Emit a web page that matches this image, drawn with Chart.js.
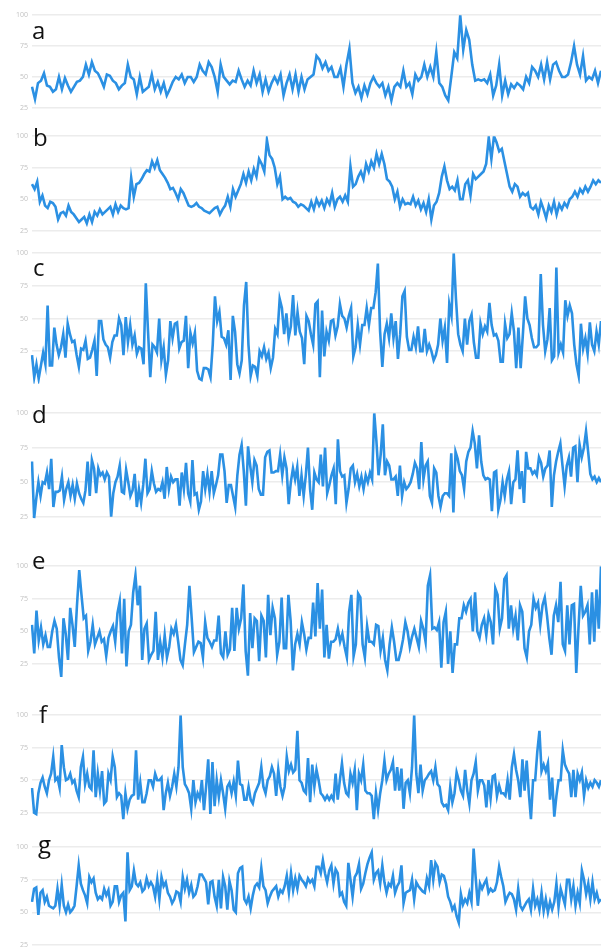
<!DOCTYPE html>
<html lang="en">
<head>
<meta charset="UTF-8">
<title>Seven series a-g</title>
<script src="https://cdn.jsdelivr.net/npm/chart.js@4.4.1/dist/chart.umd.min.js"></script>
<style>
  html, body { margin: 0; padding: 0; background: #fff; overflow: hidden; }
  #page { position: relative; width: 601px; height: 947px; }
  #page canvas { position: absolute; left: 0; }
  .tag { position: absolute; font-family: 'Open Sans', sans-serif; font-size: 24px; line-height: 24px; color: #111; }
</style>
</head>
<body>
<div id="page"></div>
<script>
const tickValues = [25, 50, 75, 100];
const panelLetters = ['a', 'b', 'c', 'd', 'e', 'f', 'g'];

const seriesA = [42,32,45,47,53,43,42,38,40,50, 40,49,43,38,42,46,47,50,60,52, 62,55,53,48,42,52,51,47,45,40,
  43,45,60,50,48,36,50,38,40,42, 52,40,46,38,45,35,40,46,50,48, 52,45,50,50,46,50,60,55,52,62,
  58,50,38,60,50,47,44,47,46,55, 48,42,47,43,55,45,52,38,48,38, 45,50,45,52,35,45,52,40,52,38,
  50,40,48,50,52,67,64,57,62,55, 58,50,50,57,42,60,73,45,37,42, 33,43,36,45,50,45,42,45,35,42,
  31,42,45,42,55,42,45,36,52,47, 50,60,50,58,50,70,45,42,35,31, 50,70,65,100,72,88,80,60,47,48,
  47,48,45,52,35,43,60,35,47,36, 44,41,45,43,40,50,45,58,55,50, 60,48,62,48,60,62,55,50,50,52,
  62,75,60,52,67,47,50,48,55,45, 55];

const seriesB = [62,58,64,48,53,45,43,48,47, 44,34,39,40,37,45,40,38,35,32, 34,36,31,38,32,40,37,
  42,38,40,42,44,38,46,40,45,43, 42,43,67,52,62,63,66,70,73,72, 80,75,81,73,70,67,63,58,59,55,
  50,58,55,50,45,44,45,47,44,43, 41,40,39,41,43,44,38, 42,45,52,44,58,52,57,62,70,63,
  72,65,74,68,82,78,72,97,85,82, 75,62,68,50,52,50,51,48,47,44, 46,45,43,41,48,42,50,45,49,43,
  50,46,55,44,50,52,48,53,48,76, 60,62,68,72,66,78,72,80,75,86, 78,86,78,66,64,60,50,56,44,50,
  46,47,46,52,45,49,42,47,40,50, 34,45,48,55,68,76,65,58,60,57, 65,50,50,62,65,53,70,66,68,70,
  72,78,99,82,100,95,88,90,80,70, 60,56,62,60,52,55,53,55,44,42, 45,38,48,42,35,45,40,48,38,46,42,
  47,44,50,52,56,52,58,55,60,56,60,65, 62,65,63];

const seriesC = [22,5,15,4,14,24,15,60,14,14, 43,30,22,28,38,20,46,38,32,33, 22,13,27,26,33,19,20,26,33,6,
  48,48,34,30,28,20,32,37,37,50, 45,22,51,32,45,30,37,23,28,27, 15,77,40,5,30,28,24,50,18,28,
  7,18,48,35,46,47,27,32,33,52, 12,39,31,39,10,4,3,12,12,11, 5,30,67,48,55,36,35,30,41,3,
  52,40,15,8,18,60,78,30,6,14, 13,6,25,21,28,19,24,12,20,42, 38,65,58,38,54,35,44,68,37,55,
  40,35,15,52,48,38,30,61,63,5, 56,21,40,33,48,49,37,44,61,52, 50,43,52,58,21,28,45,30,45,45,
  58,45,58,58,70,92,40,13,38,46, 35,54,35,48,19,38,67,71,36,26, 26,36,28,44,25,25,42,25,30,25,
  18,22,30,50,33,43,16,61,52,100, 65,38,30,25,50,30,48,53,32,20, 20,46,38,44,40,62,45,37,38,33,
  17,17,46,35,38,54,40,12,43,12, 38,67,50,45,35,28,28,30,84,45, 25,34,58,18,21,89,24,30,24,64,
  52,60,54,30,15,6,46,27,35,23, 47,30,25,40,30,48];

const seriesD = [65,24,38,50,40,50,49,57,45,67, 32,43,43,44,54,37,45,50,40,48, 38,49,42,38,35,44,65,40,66,60,
  42,60,55,57,52,57,54,25,42,50, 54,62,43,42,59,50,40,44,56,32, 45,35,48,67,42,45,58,49,43,45,
  44,50,38,61,45,54,50,52,52,33, 57,45,64,42,36,66,41,42,30,36, 58,45,56,43,58,42,48,55,70,70,
  58,35,48,48,40,32,55,70,77,58, 33,76,62,50,66,62,45,41,41,68, 72,73,57,57,58,58,70,55,68,60,
  34,50,60,52,61,40,55,40,55,75, 45,30,57,52,50,70,47,75,42,48, 55,60,34,81,58,54,55,35,45,60,
  62,50,56,47,54,45,55,50,57,52, 100,80,55,70,92,55,65,62,52,52, 54,40,62,40,50,45,47,50,56,64,
  60,45,79,52,62,65,40,35,60,57, 40,32,40,42,42,40,71,28,72,67, 58,55,45,65,72,75,87,78,60,84,
  65,55,52,53,52,29,57,58,30,37, 50,40,52,58,34,50,52,73,45,58, 35,72,60,60,56,58,55,68,64,54,
  60,62,73,32,55,65,72,78,62,47, 62,68,54,75,76,50,77,68,75,87, 72,56,52,54,50,53,50];

const seriesE = [55,33,66,43,53,40,47,38, 38,50,58,52,30,15,60,48, 28,68,55,38,70,97,78,60,62,35,
  42,55,40,45,50,42,44,31,45,50, 54,42,64,73,33,75,23,50,55,80, 93,70,85,28,52,56,28,32,35,65,
  28,42,30,47,30,38,52,48,55,42, 28,24,40,55,85,60,34,38,42,41, 30,57,45,42,38,43,43,62,33,30,
  50,32,36,68,35,68,52,60,86,35, 16,64,37,60,58,27,62,58,30,78, 47,68,60,32,42,76,37,37,78,58,
  20,40,48,40,57,48,36,45,45,72, 46,87,52,82,30,55,29,42,42,44, 52,42,48,38,30,65,78,31,40,79,
  76,40,30,54,42,42,40,55,54,35, 45,28,20,40,53,42,28,28,35,44, 57,50,38,46,52,45,38,58,52,42,
  85,93,52,53,51,57,22,57,65,25, 50,18,40,40,60,60,70,65,72,75, 50,80,50,45,55,60,47,63,57,40,
  83,78,52,60,90,93,52,70,52,62, 43,70,65,37,30,50,55,75,68,72, 55,70,76,62,45,32,62,70,57,88,
  40,35,70,40,70,71,18,53,85,62, 65,70,40,80,42,82,52,100];

const seriesF = [44,25,24,40,48,52,45,40,50,55, 68,50,52,44,77,60,50,51,55,48, 50,42,37,60,68,47,55,45,43,73,
  37,55,42,57,32,34,55,50,68,60, 37,40,38,20,40,28,35,38,39,73, 35,48,33,33,40,50,50,45,55,50,
  50,52,27,40,48,38,45,55,45,60, 100,60,47,44,40,28,50,33,40,36, 50,27,45,66,24,64,30,50,37,50,
  40,28,45,48,40,49,38,65,47,46, 35,35,45,35,32,40,44,48,60,45, 40,50,53,60,55,38,58,45,38,45,
  68,57,62,56,58,88,50,48,42,40, 67,33,62,45,58,50,40,38,35,38, 35,38,35,55,35,50,63,48,40,38,
  55,48,58,27,55,50,62,42,40,40, 38,20,40,27,40,50,65,50,55,58, 64,42,60,42,59,28,48,50,40,60,
  100,55,40,62,42,50,52,55,57,50, 60,47,45,33,30,31,27,45,33,40, 56,50,42,38,58,42,32,50,55,64,
  42,50,50,46,29,50,36,53,54,38, 46,40,40,38,50,35,60,70,58,50, 37,66,42,65,40,20,50,50,72,88,
  57,62,57,63,35,52,22,38,50,50, 73,62,58,55,37,58,37,55,50,56, 38,50,44,48,45,50,48,45,50];

const seriesG = [58,68,69,48,65,67,58,62,55,54, 53,55,68,55,71,55,50,56,50,52, 55,70,86,72,67,63,57,77,73,76,
  65,60,62,60,68,63,67,55,58,70, 70,58,63,65,43,96,67,70,82,72, 70,73,66,68,76,70,73,70,62,75,
  60,77,70,73,65,62,57,60,66,65, 58,77,68,75,65,71,62,64,70,79, 79,76,73,56,73,74,62,55,75,53,
  77,70,52,74,67,52,50,80,84,85, 60,57,62,53,63,70,72,69,84,70, 67,57,62,66,68,70,62,67,65,70,
  78,65,80,67,76,68,78,75,73,70, 76,73,75,70,85,85,80,90,80,73, 82,86,72,83,80,63,65,58,55,88,
  75,62,77,80,87,68,72,80,87,92, 96,75,80,82,72,86,73,65,72,70, 78,65,70,73,86,57,65,66,67,75,
  60,73,70,68,66,65,76,70,90,75, 88,85,73,79,78,72,62,58,52,55, 47,42,64,56,60,57,65,58,99,76,
  55,72,68,72,75,65,68,66,67,73, 85,77,70,58,62,65,64,60,52,68, 55,52,55,58,60,52,68,55,60,52,
  65,51,60,50,58,52,58,72,54,68, 62,56,75,75,60,70,55,65,57,82, 75,64,72,60,73,60,65,58,60];

const allSeries = [seriesA, seriesB, seriesC, seriesD, seriesE, seriesF, seriesG];
const axisMins = [25, 25, 0, 22, 12, 18, 25];

// page layout: y of the 100 line, y of the axis minimum, letter left / baseline
const panelTop = [15, 136, 253, 413, 566, 715, 847];
const panelBottom = [108, 231, 384, 521, 681, 822, 945];
const tagLeft = [32, 33, 33, 32, 32, 39, 38];
const tagBaseline = [39, 146, 276, 423, 569, 723, 853];

const lineColor = '#2b90e3';
const pad = 8;
const page = document.getElementById('page');

allSeries.forEach((values, i) => {
  const canvas = document.createElement('canvas');
  canvas.width = 601;
  canvas.height = panelBottom[i] - panelTop[i] + pad * 2;
  canvas.style.top = (panelTop[i] - pad) + 'px';
  page.appendChild(canvas);

  new Chart(canvas, {
    type: 'line',
    data: {
      labels: values.map((_, k) => k + 1),
      datasets: [{
        data: values,
        borderColor: lineColor,
        borderWidth: 2.6,
        pointRadius: 0,
        tension: 0,
        fill: false
      }]
    },
    options: {
      responsive: false,
      animation: false,
      events: [],
      layout: { padding: { top: pad, bottom: pad, left: 0, right: 0 } },
      plugins: { legend: { display: false }, tooltip: { enabled: false } },
      scales: {
        x: { display: false },
        y: {
          min: axisMins[i],
          max: 100,
          afterBuildTicks: s => { s.ticks = tickValues.map(v => ({ value: v })); },
          afterFit: s => { s.width = 32; },
          border: { display: false },
          grid: { color: '#ececec', lineWidth: 1.5, drawTicks: false },
          ticks: { padding: 4, color: '#c2c2c2', font: { size: 7, family: 'Open Sans' } }
        }
      }
    }
  });

  const tag = document.createElement('div');
  tag.className = 'tag';
  tag.textContent = panelLetters[i];
  tag.style.left = tagLeft[i] + 'px';
  tag.style.top = (tagBaseline[i] - 21) + 'px';
  page.appendChild(tag);
});
</script>
</body>
</html>
